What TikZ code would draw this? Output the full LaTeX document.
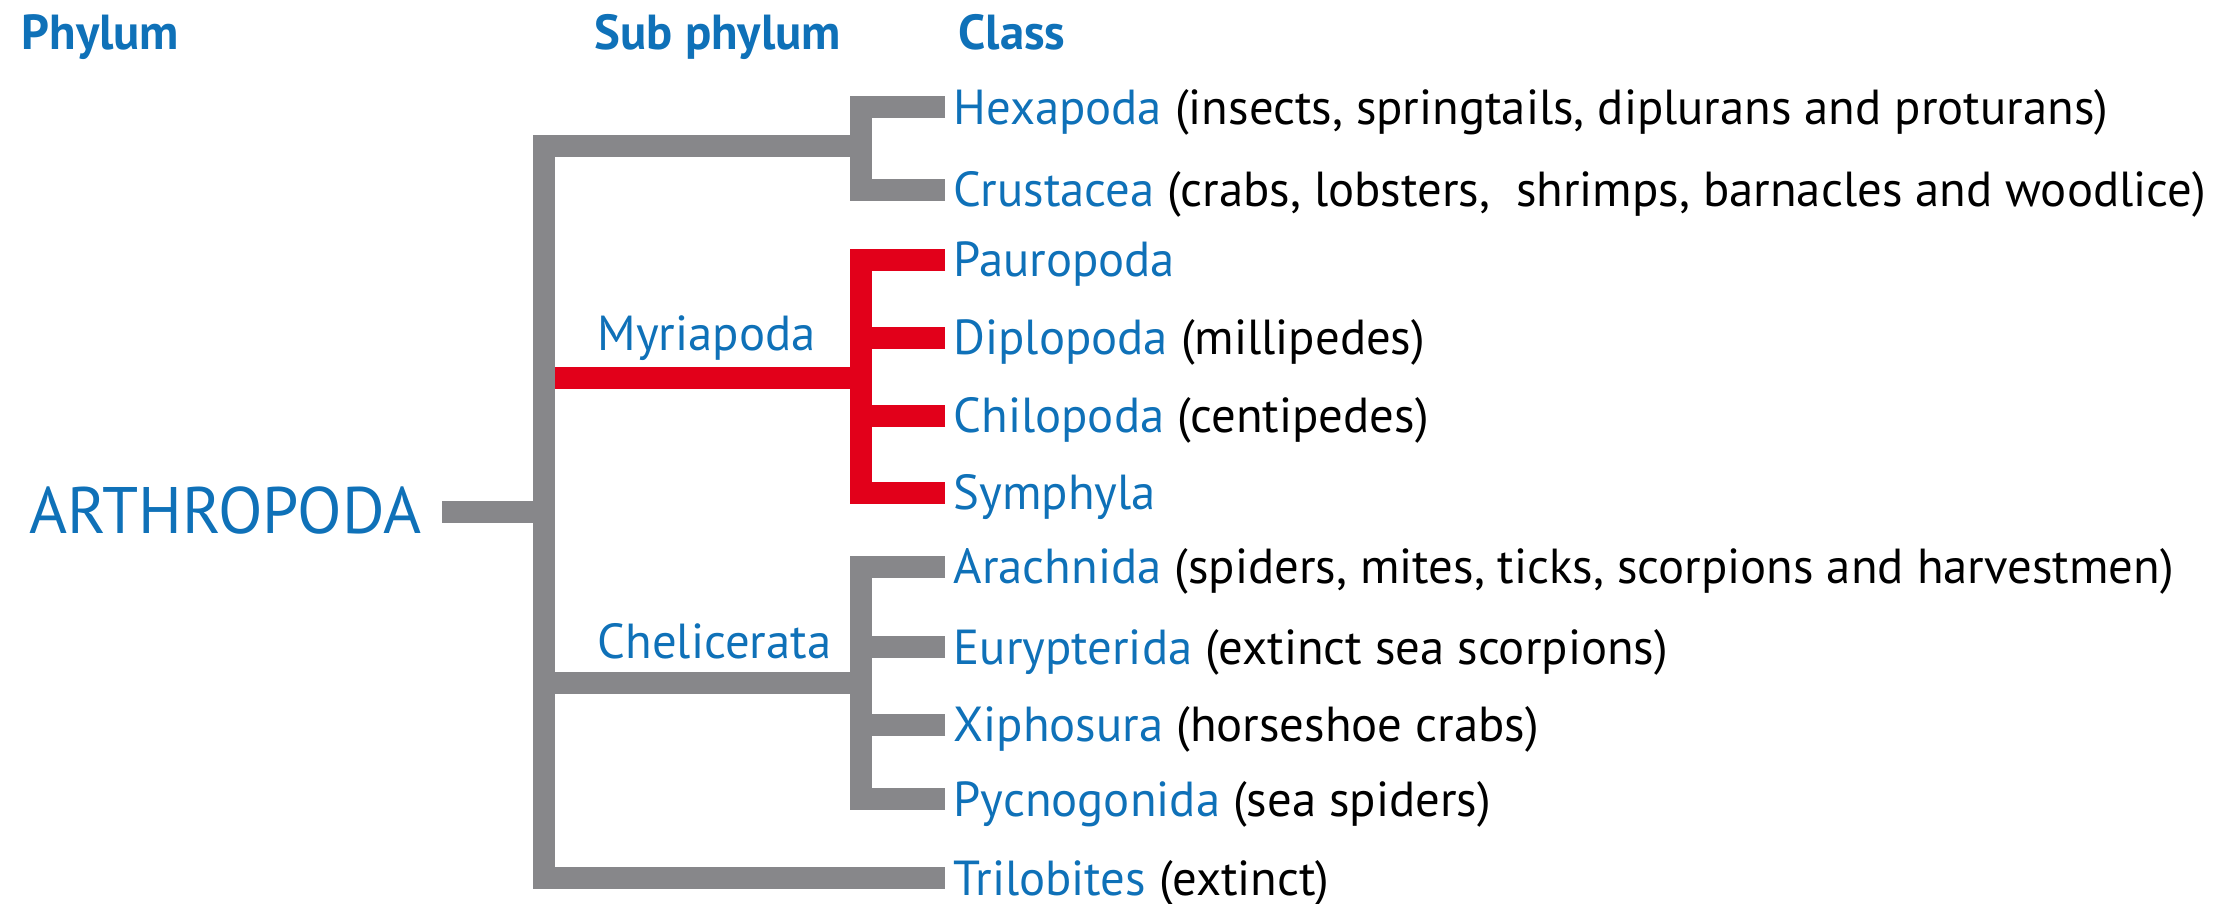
\documentclass[tikz,border=0pt]{standalone}
\usepackage{fontspec}
\setmainfont[FakeStretch=0.99]{PT Sans}
\usepackage{xcolor}
\usepackage{tikz}
\definecolor{taxblue}{HTML}{0F71B8}
\definecolor{branchgray}{HTML}{87878A}
\definecolor{myriared}{HTML}{E2001A}
\newcommand{\taxsize}{\fontsize{14}{17}\selectfont}
\newcommand{\common}[1]{\textcolor{black}{(#1)}}
\tikzstyle{branch} = [line width=0.22cm, line join=miter, draw=branchgray]
\tikzstyle{redbranch} = [branch, draw=myriared]
\tikzstyle{header} = [anchor=base west, inner sep=0pt, text=taxblue, font=\bfseries\taxsize]
\tikzstyle{subphylum} = [anchor=base west, inner sep=0pt, text=taxblue, font=\taxsize]
\tikzstyle{taxon} = [anchor=west, inner xsep=0.08cm, inner ysep=0pt, text height=0.34cm, text depth=0pt, text=taxblue, font=\taxsize]

\begin{document}
\begin{tikzpicture}
    \useasboundingbox (0,0) rectangle (22.28,-9.04);

    % Headers
    \node[header] (hphylum) at (0.21,-0.50) {Phylum};
    \node[header] (hsub) at (5.94,-0.50) {Sub phylum};
    \node[header] (hclass) at (9.58,-0.50) {Class};

    % Phylum
    \node[anchor=east, inner xsep=0.2cm, inner ysep=0pt, text height=0.44cm, text depth=0pt, text=taxblue, font=\fontsize{18.7}{21}\selectfont] (arth) at (4.42,-5.12) {ARTHROPODA};

    % Columns and junctions
    \coordinate (mv) at (5.44,0);
    \coordinate (xs) at (8.61,0);
    \coordinate (jtop) at (8.61,-1.46);
    \coordinate (jmyr) at (8.61,-3.78);
    \coordinate (jche) at (8.61,-6.83);

    % Sub phylum labels
    \node[subphylum] (myr) at (5.97,-3.51) {Myriapoda};
    \node[subphylum] (che) at (5.97,-6.59) {Chelicerata};

    % Class Row
    \node[taxon] (hex) at (9.45,-1.075) {Hexapoda \common{insects, springtails, diplurans and proturans}};
    \node[taxon] (cru) at (9.45,-1.90) {Crustacea \common{crabs, lobsters,~ shrimps, barnacles and woodlice}};
    \node[taxon] (pau) at (9.45,-2.60) {Pauropoda};
    \node[taxon] (dip) at (9.45,-3.38) {Diplopoda \common{millipedes}};
    \node[taxon] (chi) at (9.45,-4.16) {Chilopoda \common{centipedes}};
    \node[taxon] (sym) at (9.45,-4.93) {Symphyla};
    \node[taxon] (ara) at (9.45,-5.67) {Arachnida \common{spiders, mites, ticks, scorpions and harvestmen}};
    \node[taxon] (eur) at (9.45,-6.47) {Eurypterida \common{extinct sea scorpions}};
    \node[taxon] (xip) at (9.45,-7.25) {Xiphosura \common{horseshoe crabs}};
    \node[taxon] (pyc) at (9.45,-7.99) {Pycnogonida \common{sea spiders}};
    \node[taxon] (tri) at (9.45,-8.78) {Trilobites \common{extinct}};

    % Myriapoda branch
    \draw[redbranch] (jmyr) -- (jmyr -| mv);
    \draw[redbranch] (pau.west) -- (pau.west -| xs) -- (sym.west -| xs) -- (sym.west);
    \draw[redbranch] (dip.west) -- (dip.west -| xs);
    \draw[redbranch] (chi.west) -- (chi.west -| xs);

    % Main stem
    \draw[branch] (arth.east) -- (arth.east -| mv);
    \draw[branch] (jtop) -- (jtop -| mv) -- (tri.west -| mv) -- (tri.west);
    \draw[branch] (hex.west) -- (hex.west -| xs) -- (cru.west -| xs) -- (cru.west);

    % Chelicerata branch
    \draw[branch] (jche) -- (jche -| mv);
    \draw[branch] (ara.west) -- (ara.west -| xs) -- (pyc.west -| xs) -- (pyc.west);
    \draw[branch] (eur.west) -- (eur.west -| xs);
    \draw[branch] (xip.west) -- (xip.west -| xs);
\end{tikzpicture}
\end{document}
